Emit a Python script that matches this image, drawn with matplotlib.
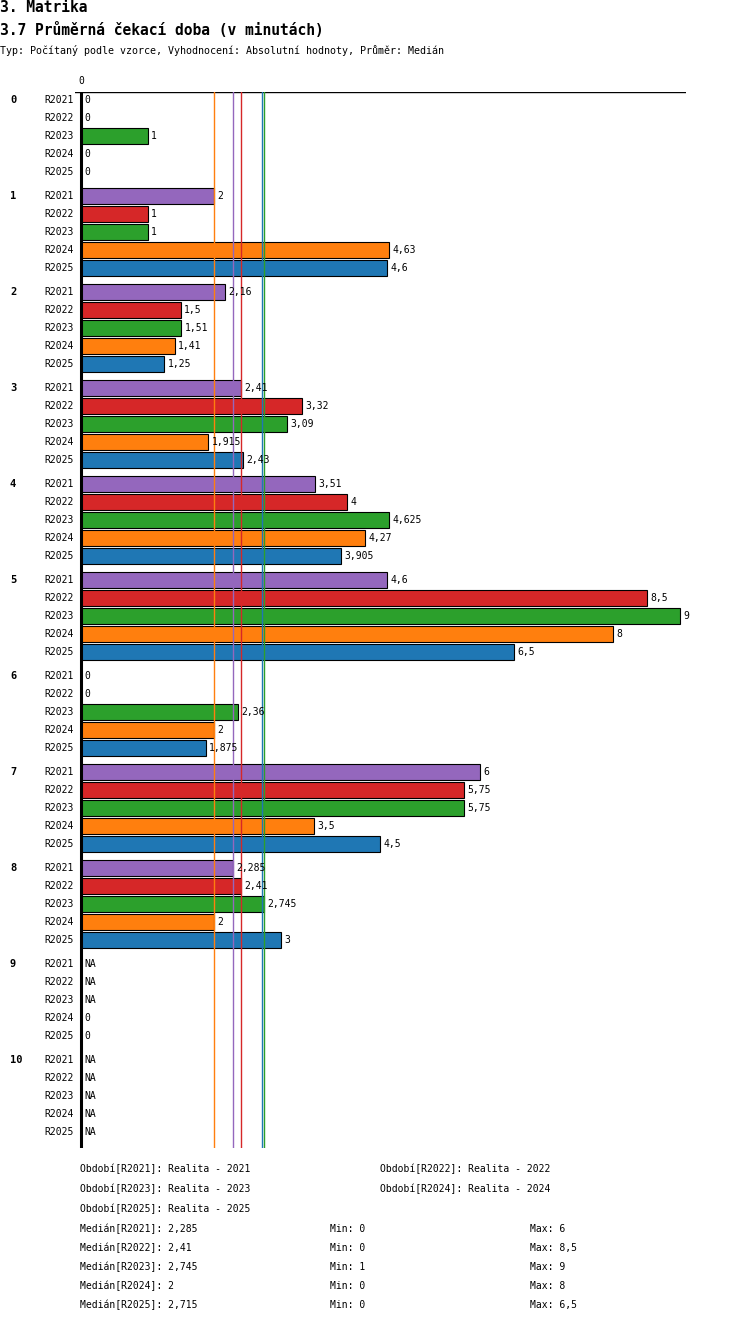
import matplotlib.pyplot as plt
import numpy as np

plt.rcParams['font.family'] = 'DejaVu Sans Mono'

groups = ['0', '1', '2', '3', '4', '5', '6', '7', '8', '9', '10']
series = ['R2021', 'R2022', 'R2023', 'R2024', 'R2025']
colors = ['#9467bd', '#d62728', '#2ca02c', '#ff7f0e', '#1f77b4']
# None = NA
values = {
    'R2021': [0, 2, 2.16, 2.41, 3.51, 4.6, 0, 6, 2.285, None, None],
    'R2022': [0, 1, 1.5, 3.32, 4, 8.5, 0, 5.75, 2.41, None, None],
    'R2023': [1, 1, 1.51, 3.09, 4.625, 9, 2.36, 5.75, 2.745, None, None],
    'R2024': [0, 4.63, 1.41, 1.915, 4.27, 8, 2, 3.5, 2, 0, None],
    'R2025': [0, 4.6, 1.25, 2.43, 3.905, 6.5, 1.875, 4.5, 3, 0, None],
}
medians = [2.285, 2.41, 2.745, 2, 2.715]
mins = [0, 0, 1, 0, 0]
maxs = [6, 8.5, 9, 8, 6.5]
period_names = ['Realita - 2021', 'Realita - 2022', 'Realita - 2023',
                'Realita - 2024', 'Realita - 2025']

W, H = 750, 1328
fig = plt.figure(figsize=(W / 100, H / 100), dpi=100)

def fmt(v):
    return ('%g' % v).replace('.', ',')

px_per = (680 - 81) / 9.0
x0, x1, y0, y1 = 75, 686, 92, 1148
ax = fig.add_axes([x0 / W, 1 - y1 / H, (x1 - x0) / W, (y1 - y0) / H])
ax.set_xlim(-(81 - x0) / px_per, (x1 - 81) / px_per)
ax.set_ylim(y1, y0)
ax.axis('off')

ax.plot([ax.get_xlim()[0], ax.get_xlim()[1]], [y0, y0], color='black', lw=1)
ax.plot([0, 0], [y0, y1], color='black', lw=2.2)
ax.text(0, y0 - 6, '0', fontsize=7, ha='center', va='bottom')

for m, c in zip(medians, colors):
    ax.plot([m, m], [y0, y1], color=c, lw=1)

for g, name in enumerate(groups):
    for r, s in enumerate(series):
        yc = 100 + g * 96 + r * 18
        v = values[s][g]
        fig.text(44 / W, 1 - yc / H, s, fontsize=7, va='center')
        if r == 0:
            fig.text(10 / W, 1 - yc / H, name, fontsize=7.5, va='center', weight='bold')
        if v is None:
            ax.text(0.05, yc, 'NA', fontsize=7, va='center')
        else:
            if v > 0:
                ax.barh(yc, v, height=16, color=colors[r], edgecolor='black', lw=0.8)
            ax.text(v + 0.05, yc, fmt(v), fontsize=7, va='center')

fig.text(0, 1 - 8 / H, '3. Matrika', fontsize=10.5, weight='bold', va='center')
fig.text(0, 1 - 30 / H, '3.7 Průměrná čekací doba (v minutách)', fontsize=10.5,
         weight='bold', va='center')
fig.text(0, 1 - 50 / H, 'Typ: Počítaný podle vzorce, Vyhodnocení: Absolutní hodnoty, Průměr: Medián',
         fontsize=7.2, va='center')

for i, (s, p) in enumerate(zip(series, period_names)):
    x = 80 if i % 2 == 0 else 380
    y = 1169 + (i // 2) * 20
    fig.text(x / W, 1 - y / H, 'Období[%s]: %s' % (s, p), fontsize=7, va='center')
for i, s in enumerate(series):
    y = 1229 + i * 19
    fig.text(80 / W, 1 - y / H, 'Medián[%s]: %s' % (s, fmt(medians[i])), fontsize=7, va='center')
    fig.text(330 / W, 1 - y / H, 'Min: %s' % fmt(mins[i]), fontsize=7, va='center')
    fig.text(530 / W, 1 - y / H, 'Max: %s' % fmt(maxs[i]), fontsize=7, va='center')

fig.savefig('out.png', dpi=100)
